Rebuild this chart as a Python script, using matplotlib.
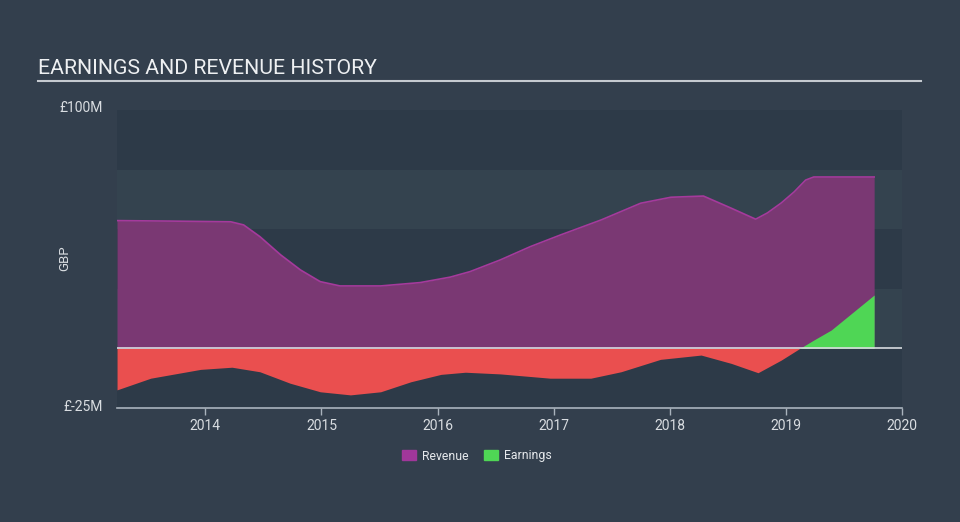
import matplotlib.pyplot as plt
from matplotlib.patches import Patch
import numpy as np

plt.rcParams['font.family'] = ['Roboto', 'DejaVu Sans']

# data (decimal years, GBP millions)
rev_years = [2013.24, 2013.70, 2014.22, 2014.33, 2014.47, 2014.65, 2014.82, 2014.99, 2015.16,
             2015.51, 2015.85, 2016.11, 2016.28, 2016.54, 2016.80, 2017.06, 2017.41,
             2017.75, 2018.01, 2018.29, 2018.53, 2018.74, 2018.84, 2018.96, 2019.07,
             2019.17, 2019.24, 2019.76]
revenue = [53.6, 53.4, 53.1, 51.8, 46.9, 39.2, 32.9, 28.0, 26.2,
           26.2, 27.6, 29.9, 32.2, 37.1, 42.7, 47.6, 53.9,
           60.9, 63.4, 63.9, 58.8, 54.2, 56.8, 61.0, 65.6,
           70.6, 71.9, 71.9]

earn_years = [2013.24, 2013.53, 2013.96, 2014.23, 2014.47, 2014.73, 2014.99, 2015.25, 2015.51,
              2015.77, 2016.03, 2016.24, 2016.54, 2016.97, 2017.32, 2017.58, 2017.92,
              2018.27, 2018.53, 2018.76, 2018.96, 2019.12, 2019.24, 2019.39, 2019.76]
earnings = [-17.4, -12.5, -8.8, -7.9, -9.8, -14.6, -18.2, -19.5, -18.2,
            -14.0, -10.9, -10.0, -10.7, -12.5, -12.5, -9.8, -4.6,
            -2.8, -6.3, -10.2, -4.9, 0.0, 3.5, 7.7, 22.4]

year_ticks = [2014, 2015, 2016, 2017, 2018, 2019, 2020]

bg = '#333f4d'
fig = plt.figure(figsize=(9.6, 5.22), dpi=100, facecolor=bg)
ax = fig.add_axes([0.1219, 0.2184, 0.8177, 0.5709])
ax.set_facecolor(bg)

ax.set_xlim(2013.24, 2020.0)
ax.set_ylim(-25, 100)

# alternating horizontal bands
band_dark = '#2d3a48'
band_light = '#34434f'
for i, lo in enumerate(range(-25, 100, 25)):
    ax.axhspan(lo, lo + 25, color=band_dark if i % 2 == 0 else band_light, lw=0, zorder=0)

# revenue
ax.fill_between(rev_years, 0, revenue, color='#7a3873', lw=0, zorder=2)
ax.plot(rev_years, revenue, color='#a53a9c', lw=1.2, zorder=3, solid_joinstyle='round')

# earnings
ex = np.array(earn_years)
ey = np.array(earnings)
ax.fill_between(ex, 0, ey, where=ey <= 0, interpolate=True, color='#ea4f4f', lw=0, zorder=4)
ax.fill_between(ex, 0, ey, where=ey >= 0, interpolate=True, color='#4fd655', lw=0, zorder=4)

ax.axhline(0, color='#d8dce0', lw=1.2, zorder=5)

for s in ['top', 'right', 'left']:
    ax.spines[s].set_visible(False)
ax.spines['bottom'].set_color('#a9b3bd')
ax.spines['bottom'].set_linewidth(1.2)

ax.set_xticks(year_ticks)
ax.set_xticklabels([str(y) for y in year_ticks])
ax.tick_params(axis='x', colors='#a9b3bd', length=5, width=1, labelsize=10,
               labelcolor='#d9dde1', pad=3)
ax.set_yticks([])

fig.text(103 / 960, 1 - 108 / 522, '£100M', color='#d9dde1', fontsize=10, ha='right', va='center')
fig.text(103 / 960, 1 - 407 / 522, '£-25M', color='#d9dde1', fontsize=10, ha='right', va='center')
fig.text(65 / 960, 1 - 258 / 522, 'GBP', color='#d9dde1', fontsize=9.5, rotation=90,
         ha='center', va='center')

# title and underline
fig.text(38 / 960, 1 - 69 / 522, 'EARNINGS AND REVENUE HISTORY', color='#eef0f2',
         fontsize=15.3, ha='left', va='center')
fig.add_artist(plt.Line2D([38 / 960, 921 / 960], [1 - 81 / 522, 1 - 81 / 522],
                          color='#c5cad0', lw=1.5))

handles = [Patch(color='#a0379a', label='Revenue'), Patch(color='#4fd655', label='Earnings')]
leg = fig.legend(handles=handles, loc='center', bbox_to_anchor=(477 / 960, 1 - 456 / 522),
                 ncol=2, frameon=False, fontsize=8.8, handlelength=1.1, handleheight=0.9,
                 columnspacing=1.3, handletextpad=0.5)
for t in leg.get_texts():
    t.set_color('#e6e9ec')

fig.savefig('out.png', dpi=100, facecolor=bg)
